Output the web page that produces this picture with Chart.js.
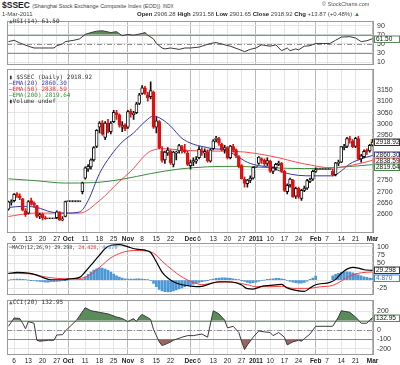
<!DOCTYPE html>
<html>
<head>
<meta charset="utf-8">
<script src="https://cdn.jsdelivr.net/npm/chart.js@4.4.1/dist/chart.umd.min.js"></script>
<style>
  body { margin: 0; width: 400px; height: 365px; overflow: hidden; background: #fff; position: relative;
         font-family: 'Liberation Sans', Arial, sans-serif; color: #222; }
  .pane { position: absolute; left: 0; width: 400px; }
  .txt { position: absolute; white-space: nowrap; line-height: 1; }
  .leg { position: absolute; white-space: nowrap; line-height: 1; font-family: 'DejaVu Sans Mono', monospace;
         font-size: 6px; color: #333; }
</style>
</head>
<body>
<div class="pane" style="top:14px;height:58px"><canvas id="rsiChart"></canvas></div>
<div class="pane" style="top:62px;height:183px"><canvas id="priceChart"></canvas></div>
<div class="pane" style="top:236px;height:66px"><canvas id="macdChart"></canvas></div>
<div class="pane" style="top:293px;height:74px"><canvas id="cciChart"></canvas></div>

<!-- header -->
<div class="txt" style="left:2px;top:1px;font-size:8.5px"><b>$SSEC</b> <span style="font-size:5.5px;color:#444">(Shanghai Stock Exchange Composite Index (EOD))</span> <span style="font-size:4.5px;color:#444">INDX</span></div>
<div class="txt" style="left:322px;top:2px;font-size:5.5px;color:#555">© StockCharts.com</div>
<div class="txt" style="left:2px;top:11px;font-size:6px;color:#444">1-Mar-2011</div>
<div class="txt" style="left:137px;top:11px;font-size:6px;color:#444"><b style="color:#222">Open</b> 2906.28 <b style="color:#222">High</b> 2931.58 <b style="color:#222">Low</b> 2901.65 <b style="color:#222">Close</b> 2918.92 <b style="color:#222">Chg</b> +13.87 (+0.48%) <span style="color:#2a8a2a">▲</span></div>

<!-- panel legends -->
<div class="leg" style="left:9px;top:18px"><span style="color:#4d7f4d">▲</span>RSI(14) 61.50</div>
<div class="leg" style="left:9px;top:74px">▮ $SSEC (Daily) 2918.92</div>
<div class="leg" style="left:9px;top:80px;color:#3535b0">—EMA(20) 2860.30</div>
<div class="leg" style="left:9px;top:86px;color:#e03030">—EMA(50) 2838.59</div>
<div class="leg" style="left:9px;top:92px;color:#3c8a3c">—EMA(200) 2819.64</div>
<div class="leg" style="left:9px;top:98px">▮Volume undef</div>
<div class="leg" style="left:9px;top:245px;font-size:5px">—MACD(12,26,9) 29.298, <span style="color:#e03030">24.428</span>, <span style="color:#3b8ad8">4.870</span></div>
<div class="leg" style="left:9px;top:299px"><span style="color:#4d7f4d">▲</span>CCI(20) 132.95</div>

<script>
// trading days, 2 Sep 2010 .. 1 Mar 2011 (holidays kept as flat bars)
const days = ['9/2','9/3','9/6','9/7','9/8','9/9','9/10','9/13','9/14','9/15','9/16','9/17','9/20','9/21','9/22','9/23','9/24','9/27','9/28','9/29','9/30',
  '10/1','10/4','10/5','10/6','10/7','10/8','10/11','10/12','10/13','10/14','10/15','10/18','10/19','10/20','10/21','10/22','10/25','10/26','10/27','10/28','10/29',
  '11/1','11/2','11/3','11/4','11/5','11/8','11/9','11/10','11/11','11/12','11/15','11/16','11/17','11/18','11/19','11/22','11/23','11/24','11/25','11/26','11/29','11/30',
  '12/1','12/2','12/3','12/6','12/7','12/8','12/9','12/10','12/13','12/14','12/15','12/16','12/17','12/20','12/21','12/22','12/23','12/24','12/27','12/28','12/29','12/30','12/31',
  '1/3','1/4','1/5','1/6','1/7','1/10','1/11','1/12','1/13','1/14','1/17','1/18','1/19','1/20','1/21','1/24','1/25','1/26','1/27','1/28','1/31',
  '2/1','2/2','2/3','2/4','2/7','2/8','2/9','2/10','2/11','2/14','2/15','2/16','2/17','2/18','2/21','2/22','2/23','2/24','2/25','2/28','3/1'];

const tickDays = ['9/6','9/13','9/20','9/27','10/1','10/11','10/18','10/25','11/1','11/8','11/15','11/22','12/1','12/6','12/13','12/20','12/27','1/3','1/10','1/17','1/24','2/1','2/7','2/14','2/21','3/1'];
const tickText = ['6','13','20','27','Oct','11','18','25','Nov','8','15','22','Dec','6','13','20','27','2011','10','17','24','Feb','7','14','21','Mar'];
const monthText = ['Oct','Nov','Dec','2011','Feb','Mar'];

const open = [2622,2652,2660,2690,2682,2668,2615,2605,2660,2648,2638,2592,2600,2584,2580,2580,2580,2585,2610,2575,2590,
  2656,2656,2656,2656,2656,2700,2760,2800,2810,2840,2900,2985,3005,2940,3005,2965,3010,3050,3040,2985,2995,
  2985,3055,3040,3050,3090,3135,3160,3130,3120,3140,2985,3010,2880,2840,2870,2880,2820,2870,2880,2900,2885,2870,
  2815,2830,2835,2850,2880,2870,2875,2835,2890,2930,2935,2910,2885,2895,2850,2900,2885,2855,2815,2755,2735,2750,2760,
  2808,2825,2845,2840,2825,2835,2790,2805,2820,2825,2790,2700,2730,2750,2680,2715,2670,2705,2715,2745,2755,
  2790,2798,2798,2798,2798,2798,2790,2775,2825,2830,2895,2900,2935,2925,2900,2935,2845,2855,2880,2880,2906.28];
const high = [2658,2664,2692,2696,2690,2670,2625,2660,2672,2655,2640,2605,2605,2592,2580,2580,2580,2615,2612,2590,2658,
  2656,2656,2656,2656,2656,2742,2810,2820,2845,2900,2975,3010,3015,3010,3020,3010,3060,3060,3045,3010,3000,
  3060,3065,3055,3095,3135,3170,3166,3140,3186,3145,3030,3015,2900,2880,2895,2885,2880,2880,2910,2905,2910,2880,
  2840,2850,2855,2900,2895,2890,2885,2890,2930,2945,2940,2915,2905,2900,2905,2910,2890,2860,2820,2765,2755,2770,2810,
  2808,2855,2850,2845,2850,2840,2810,2825,2835,2830,2795,2735,2760,2755,2720,2720,2710,2725,2755,2760,2795,
  2805,2798,2798,2798,2798,2798,2800,2830,2840,2900,2910,2940,2945,2930,2940,2945,2865,2885,2890,2910,2931.58];
const low = [2618,2640,2655,2674,2665,2615,2590,2600,2640,2630,2585,2580,2575,2578,2580,2580,2580,2580,2573,2570,2588,
  2656,2656,2656,2656,2656,2690,2755,2790,2800,2835,2895,2960,2950,2930,2960,2955,3005,3020,2985,2965,2970,
  2980,3030,3020,3045,3085,3130,3130,3100,3110,2980,2960,2890,2830,2825,2860,2820,2810,2840,2870,2870,2870,2815,
  2800,2815,2825,2845,2860,2850,2830,2830,2885,2920,2905,2880,2870,2845,2845,2875,2850,2805,2755,2720,2720,2740,2755,
  2808,2820,2825,2815,2815,2785,2780,2795,2815,2785,2700,2690,2720,2675,2670,2670,2661,2700,2710,2740,2750,
  2785,2798,2798,2798,2798,2798,2770,2770,2815,2828,2885,2895,2915,2895,2895,2840,2830,2850,2865,2875,2901.65];
const close = [2655,2656,2688,2684,2673,2618,2598,2656,2648,2642,2590,2598,2584,2580,2580,2580,2580,2611,2574,2580,2656,
  2656,2656,2656,2656,2656,2739,2806,2812,2841,2895,2971,3003,2956,3004,2967,3003,3051,3040,2994,2995,2978,
  3054,3045,3048,3089,3129,3159,3135,3115,3147,2985,3014,2894,2838,2875,2884,2828,2875,2875,2904,2884,2877,2820,
  2829,2837,2842,2887,2875,2878,2837,2885,2925,2937,2915,2886,2895,2850,2902,2884,2858,2811,2758,2736,2751,2760,2808,
  2808,2853,2838,2824,2838,2791,2805,2821,2827,2791,2706,2728,2756,2678,2715,2677,2706,2716,2749,2752,2790,
  2798,2798,2798,2798,2798,2798,2774,2828,2828,2899,2900,2935,2930,2899,2936,2846,2859,2879,2878,2905,2918.92];

// moving averages as [day index, value]
const ema20 = [[0,2630],[5,2635],[10,2630],[15,2610],[20,2605],[25,2610],[28,2660],[32,2780],[36,2860],[40,2920],[44,2960],[48,3010],[51,3035],[54,3020],[57,2990],[61,2936],[65,2910],[68,2900],[72,2890],[76,2885],[80,2860],[84,2830],[88,2815],[92,2808],[97,2784],[102,2772],[107,2770],[114,2770],[117,2792],[120,2823],[124,2845],[128,2860.3]];
const ema50 = [[0,2590],[9,2605],[25,2605],[32,2660],[39,2745],[43,2790],[50,2880],[55,2890],[60,2885],[68,2880],[80,2878],[92,2858],[104,2823],[114,2805],[120,2815],[128,2838.59]];
const ema200 = [[0,2757],[10,2748],[20,2738],[30,2740],[40,2755],[50,2780],[60,2800],[70,2810],[80,2812],[92,2806],[104,2802],[114,2806],[128,2819.64]];

const rsi = [[0,55],[2,58],[4,52],[7,45],[9,41],[11,41],[14,41],[16,41],[17,46],[19,50],[20,55],[23,58],[25,61],[27,71],[29,75],[31,78],[33,79],[36,75],[38,77],[40,68],[42,71],[44,69],[47,73],[48,75],[49,69],[51,61],[52,51],[54,41],[55,39],[57,41],[60,38],[62,41],[64,41],[67,43],[68,45],[71,51],[73,53],[76,48],[78,45],[81,38],[83,33],[85,38],[87,41],[89,48],[92,45],[94,48],[96,35],[98,41],[99,35],[101,39],[102,37],[104,45],[106,46],[108,51],[113,51],[115,58],[117,65],[120,66],[122,63],[124,55],[126,57],[128,61.5]];

const macd = [[0,20],[3,23],[7,21],[10,15],[12,8],[15,1],[19,1],[22,4],[25,8],[27,25],[30,55],[32,75],[34,95],[36,105],[39,107],[42,100],[45,93],[48,90],[50,83],[52,55],[54,24],[56,6],[58,-5],[60,-12],[63,-17],[66,-20],[68,-19],[71,-11],[74,-5],[77,-5],[80,-8],[82,-15],[84,-26],[86,-27],[89,-19],[92,-16],[96,-13],[98,-24],[101,-31],[104,-34],[106,-24],[108,-14],[113,-7],[115,2],[117,20],[119,33],[121,38],[123,36],[125,31],[128,29.298]];
const signal = [[0,20],[7,19],[14,8],[20,4],[25,5],[28,12],[32,38],[36,67],[40,83],[44,89],[48,88],[50,85],[52,75],[54,57],[56,42],[58,28],[60,15],[63,0],[66,-10],[68,-14],[72,-8],[76,-6],[80,-8],[84,-14],[87,-20],[92,-20],[96,-19],[100,-25],[105,-25],[110,-20],[114,-16],[117,-3],[120,12],[124,22],[128,24.428]];
const hist = [0,1,2,3,3,2,1,0,-1,-2,
  -3,-4,-5,-6,-6,-5,-5,-4,-3,-2,-1,
  0,1,1,2,2,3,
  10,17,24,30,34,37,36,33,29,24,18,13,
  9,6,4,3,3,3,4,4,3,2,1,
  -2,-10,-20,-28,-33,-35,-36,-35,-33,-30,-27,-24,-20,-17,-14,-12,-10,-7,-5,
  -3,-1,1,3,5,6,7,7,6,5,4,2,1,
  -1,-4,-7,-9,-8,
  -6,-4,-2,0,2,3,4,5,5,4,2,
  -2,-4,-6,-8,-9,-9,-7,-3,2,6,12,
  null,null,null,null,null,
  13,17,20,23,25,25,24,22,19,16,13,10,8,6,4.87];

const cci = [[0,40],[2,130],[4,123],[5,73],[6,13],[7,90],[9,73],[10,-110],[11,-120],[14,-110],[16,-110],[17,-53],[19,-50],[20,-10],[24,107],[27,240],[29,207],[32,190],[35,173],[38,140],[40,123],[42,90],[44,123],[45,90],[46,140],[47,167],[49,133],[50,113],[51,7],[53,-127],[54,-167],[56,-143],[58,-110],[61,-77],[63,-60],[65,-60],[68,-43],[70,-77],[72,207],[74,173],[76,107],[77,23],[79,40],[81,-27],[82,-127],[83,-210],[84,-160],[86,-77],[88,-10],[90,-20],[92,-27],[93,-60],[95,-27],[97,-77],[98,-160],[99,-143],[100,-127],[102,-110],[103,-120],[104,-93],[106,-43],[108,40],[114,40],[116,140],[117,207],[120,190],[122,140],[124,73],[126,73],[127,107],[128,132.95]];

const priceTicks = [2600,2650,2700,2750,2800,2850,2900,2950,3000,3050,3100,3150];
const rsiTicks = [10,30,50,70,90];
const macdTicks = [-25,0,25,50,75,100];
const cciTicks = [-200,-100,0,100,200];

const RED = '#e01010', INK = '#111';
const last = days.length - 1;
const tickIdx = tickDays.map(d => days.indexOf(d));
const pts = arr => arr.map(([i, v]) => ({ x: i, y: v }));
const lastOf = arr => arr[arr.length - 1][1];

// frame, reference levels and the value boxes on the right edge
const frame = {
  id: 'frame',
  beforeDatasetsDraw(chart, args, o) {
    const { ctx, chartArea: a } = chart, y = chart.scales.y;
    (o.levels || []).forEach(l => {
      const py = Math.round(y.getPixelForValue(l.value)) + 0.5;
      ctx.save();
      ctx.strokeStyle = l.color;
      ctx.lineWidth = 1;
      ctx.setLineDash(l.dash || []);
      ctx.beginPath(); ctx.moveTo(a.left, py); ctx.lineTo(a.right, py); ctx.stroke();
      ctx.restore();
    });
  },
  afterDraw(chart, args, o) {
    const { ctx, chartArea: a } = chart, y = chart.scales.y;
    ctx.save();
    ctx.strokeStyle = '#9a9a9a';
    ctx.lineWidth = 1;
    ctx.strokeRect(Math.round(a.left) + 0.5, Math.round(a.top) + 0.5, Math.round(a.width) - 1, Math.round(a.height) - 1);
    ctx.font = '6.5px "Liberation Sans"';
    ctx.textBaseline = 'middle';
    // stack the boxes so they do not overlap
    const boxes = (o.boxes || []).map(b => ({ ...b, py: Math.round(y.getPixelForValue(b.value)) }))
      .sort((p, q) => p.py - q.py);
    boxes.forEach((b, k) => { if (k > 0 && b.py - boxes[k - 1].py < 6) b.py = boxes[k - 1].py + 6; });
    boxes.forEach(b => {
      ctx.fillStyle = '#fff';
      ctx.fillRect(a.right, b.py - 3.5, 26, 7);
      ctx.strokeStyle = b.color;
      ctx.strokeRect(a.right + 0.5, b.py - 3, 25, 6.5);
      ctx.fillStyle = b.textColor || INK;
      ctx.fillText(b.text, a.right + 2, b.py + 0.5);
    });
    ctx.restore();
  }
};

function xAxis(showLabels) {
  return {
    type: 'linear', min: -0.5, max: last + 0.5, offset: false,
    afterBuildTicks: s => { s.ticks = tickIdx.map(v => ({ value: v })); },
    afterFit: s => { s.height = showLabels ? 12 : 0; },
    grid: { offset: false, drawTicks: false, color: c => monthText.includes(tickText[c.index]) ? '#b8b8b8' : '#e4e4e4' },
    border: { display: false },
    ticks: {
      display: showLabels, autoSkip: false, maxRotation: 0, padding: 2, color: '#222',
      font: c => ({ family: 'Liberation Sans', size: 6.5, weight: monthText.includes(tickText[c.index]) ? 'bold' : 'normal' }),
      callback: (v, i) => tickText[i]
    }
  };
}

function yAxis(min, max, ticks) {
  return {
    position: 'right', min, max,
    afterBuildTicks: s => { s.ticks = ticks.map(v => ({ value: v })); },
    afterFit: s => { s.width = 26; },
    grid: { color: '#e4e4e4', drawTicks: false },
    border: { display: false },
    ticks: {
      autoSkip: false, padding: 3, color: '#333', font: { family: 'Liberation Sans', size: 7 },
      callback(v) {
        const boxes = this.chart.options.plugins.frame.boxes || [];
        const p = this.getPixelForValue(v);
        const hidden = boxes.some(b => { const d = p - this.getPixelForValue(b.value); return d >= 0 && d < 7; });
        return hidden ? '' : String(v);
      }
    }
  };
}

function options(pad, x, y, f) {
  return {
    animation: false, responsive: true, maintainAspectRatio: false, events: [],
    layout: { padding: { left: 7, right: 0, top: pad[0], bottom: pad[1] } },
    scales: { x, y },
    plugins: { legend: { display: false }, tooltip: { enabled: false }, frame: f }
  };
}

const dashDot = [5, 2, 1, 2];

// RSI
new Chart(document.getElementById('rsiChart'), {
  type: 'line',
  data: { datasets: [{
    data: pts(rsi), borderColor: '#3a3a3a', borderWidth: 1, pointRadius: 0,
    fill: { target: { value: 70 }, above: '#5b8a5b', below: 'rgba(0,0,0,0)' }
  }] },
  options: options([5, 5], xAxis(false), yAxis(4, 100, rsiTicks), {
    levels: [{ value: 70, color: '#909090' }, { value: 50, color: '#909090', dash: dashDot }, { value: 30, color: '#909090' }],
    boxes: [{ value: lastOf(rsi), text: lastOf(rsi).toFixed(2), color: '#5b8a5b' }]
  }),
  plugins: [frame]
});

// price: candles + EMAs
const barColor = days.map((d, i) => (i > 0 && close[i] < close[i - 1]) ? RED : INK);
const bodyFill = days.map((d, i) => close[i] >= open[i] ? '#fff' : barColor[i]);
new Chart(document.getElementById('priceChart'), {
  type: 'line',
  data: { datasets: [
    { type: 'bar', order: 6, grouped: false, barThickness: 5, backgroundColor: '#ffe84a',
      data: [{ x: last, y: [low[last], high[last]] }] },
    { order: 5, data: pts(ema200), borderColor: '#3c8a3c', borderWidth: 1, pointRadius: 0, cubicInterpolationMode: 'monotone' },
    { order: 4, data: pts(ema50), borderColor: '#ff4a4a', borderWidth: 1, pointRadius: 0, cubicInterpolationMode: 'monotone' },
    { order: 3, data: pts(ema20), borderColor: '#3535b0', borderWidth: 1, pointRadius: 0, cubicInterpolationMode: 'monotone' },
    { type: 'bar', order: 2, grouped: false, barThickness: 1, borderWidth: 0, backgroundColor: barColor,
      data: days.map((d, i) => ({ x: i, y: [low[i], high[i]] })) },
    { type: 'bar', order: 1, grouped: false, barThickness: 3, borderWidth: 1, borderSkipped: false, minBarLength: 1,
      backgroundColor: bodyFill, borderColor: barColor,
      data: days.map((d, i) => ({ x: i, y: [open[i], close[i]] })) }
  ] },
  options: options([5, 0], xAxis(true), yAxis(2517, 3242, priceTicks), {
    boxes: [
      { value: close[last], text: close[last].toFixed(2), color: '#333' },
      { value: lastOf(ema20), text: lastOf(ema20).toFixed(2), color: '#3535b0' },
      { value: lastOf(ema50), text: lastOf(ema50).toFixed(2), color: '#ff4a4a' },
      { value: lastOf(ema200), text: lastOf(ema200).toFixed(2), color: '#3c8a3c' }
    ]
  }),
  plugins: [frame]
});

// MACD
new Chart(document.getElementById('macdChart'), {
  type: 'line',
  data: { datasets: [
    { type: 'bar', order: 3, grouped: false, barThickness: 2, borderWidth: 0, backgroundColor: '#4b97d6',
      data: hist.map((v, i) => ({ x: i, y: v })).filter(p => p.y !== null) },
    { order: 2, data: pts(signal), borderColor: '#ff3b3b', borderWidth: 1, pointRadius: 0, cubicInterpolationMode: 'monotone' },
    { order: 1, data: pts(macd), borderColor: '#000', borderWidth: 1.2, pointRadius: 0, cubicInterpolationMode: 'monotone' }
  ] },
  options: options([6, 4], xAxis(false), yAxis(-44.4, 111.1, macdTicks), {
    boxes: [
      { value: lastOf(macd), text: lastOf(macd).toFixed(3), color: '#333' },
      { value: hist[last], text: hist[last].toFixed(3), color: '#3b8ad8', textColor: '#2a78c8' }
    ]
  }),
  plugins: [frame]
});

// CCI
new Chart(document.getElementById('cciChart'), {
  type: 'line',
  data: { datasets: [
    { order: 1, data: pts(cci), borderColor: '#3a3a3a', borderWidth: 1, pointRadius: 0,
      fill: { target: { value: 100 }, above: '#5b8a5b', below: 'rgba(0,0,0,0)' } },
    { order: 2, data: pts(cci), borderWidth: 0, pointRadius: 0,
      fill: { target: { value: -100 }, above: 'rgba(0,0,0,0)', below: '#9a6464' } }
  ] },
  options: options([5, 0], xAxis(true), yAxis(-268, 320, cciTicks), {
    levels: [{ value: 100, color: '#909090' }, { value: 0, color: '#909090', dash: dashDot }, { value: -100, color: '#909090' }],
    boxes: [{ value: lastOf(cci), text: lastOf(cci).toFixed(2), color: '#5b8a5b' }]
  }),
  plugins: [frame]
});
</script>
</body>
</html>
